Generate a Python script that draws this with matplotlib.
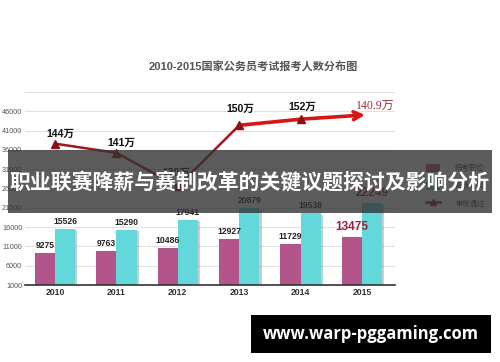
#!/usr/bin/env python3
"""2010-2015 national civil service exam chart, with the banner overlay."""

import matplotlib
matplotlib.use('Agg')
import matplotlib.pyplot as plt
import matplotlib.patheffects as pe
from matplotlib.patches import Patch, Rectangle
from matplotlib.lines import Line2D

# data
years = ['2010', '2011', '2012', '2013', '2014', '2015']
positions = [9275, 9763, 10486, 12927, 11729, 13475]      # 招考职位
recruits = [15526, 15290, 17941, 20879, 19538, 22249]     # 招录人数
passed = [144, 141, 130, 150, 152]                         # 审核通过 (万), 2010-2014
passed_labels = ['144万', '141万', '130万', '150万', '152万']
last_label = '140.9万'
y_ticks = list(range(1000, 51001, 5000))

title = '2010-2015国家公务员考试报考人数分布图'
banner = '职业联赛降薪与赛制改革的关键议题探讨及影响分析'
site = 'www.warp-pggaming.com'

MAGENTA = '#b3558a'
CYAN = '#62d8db'
DARK_RED = '#a3171c'
RED = '#d91414'

plt.rcParams['font.family'] = ['Liberation Sans', 'Noto Sans CJK SC']

fig = plt.figure(figsize=(5.0, 3.62), dpi=100)
fig.patch.set_facecolor('white')

ax = fig.add_axes([0.05, 0.2127, 0.74, 0.5332])
x = list(range(len(years)))
w = 0.33
shadow = [pe.SimplePatchShadow(offset=(1.5, -1), alpha=0.25), pe.Normal()]

b1 = ax.bar([i - w / 2 for i in x], positions, width=w, color=MAGENTA,
            bottom=0, zorder=3)
b2 = ax.bar([i + w / 2 for i in x], recruits, width=w, color=CYAN, zorder=3)
for b in list(b1) + list(b2):
    b.set_path_effects(shadow)

# value labels above bars, the 2015 ones in red and larger
for i, v in enumerate(positions):
    last = i == len(years) - 1
    ax.annotate(str(v), (i - w / 2, v), xytext=(0, 3 if not last else 4),
                textcoords='offset pixels', ha='center', va='bottom',
                fontsize=8.6 if last else 6.2, fontweight='bold',
                color='#a51e3c' if last else '#222222', zorder=4)
for i, v in enumerate(recruits):
    last = i == len(years) - 1
    ax.annotate(str(v), (i + w / 2, v), xytext=(0, 3 if not last else 4),
                textcoords='offset pixels', ha='center', va='bottom',
                fontsize=8.6 if last else 6.2, fontweight='bold',
                color='#a51e3c' if last else '#222222', zorder=4)

ax.set_xlim(-0.4886, 5.537)
ax.set_ylim(1000, 51000)
ax.set_yticks(y_ticks)
ax.set_yticklabels([str(t) if t < 51000 else '' for t in y_ticks])
ax.set_xticks(x)
ax.set_xticklabels(years, fontweight='bold')
ax.tick_params(axis='y', length=0, pad=2, labelsize=5.2, labelcolor='#555555')
ax.tick_params(axis='x', length=0, pad=2, labelsize=6.2, labelcolor='#333333')
ax.grid(axis='y', color='#e2e2e2', linewidth=0.8, zorder=0)
for s in ['left', 'right', 'top']:
    ax.spines[s].set_visible(False)
ax.spines['bottom'].set_color('#333333')
ax.spines['bottom'].set_linewidth(1.2)
ax.spines['bottom'].set_zorder(5)
ax.set_facecolor('none')

# line for 审核通过 on its own scale
ax2 = ax.twinx()
ax2.set_ylim(97.76, 160.9)
ax2.axis('off')
ax2.plot(x[:4], passed[:4], color=DARK_RED, linewidth=1.8, zorder=5)
ax2.plot(x[3:5], passed[3:5], color=RED, linewidth=2.6, zorder=5)
ax2.plot(x[:5], passed, linestyle='none', marker='^', markersize=5.5,
         color='#8c1014', zorder=6)
tip_x = len(years) - 1 + 0.05
tip_y = passed[-1] + 1.4
ax2.annotate('', xy=(tip_x, tip_y), xytext=(x[4], passed[-1]),
             arrowprops=dict(arrowstyle='->', color=RED, lw=2.6,
                             mutation_scale=14, shrinkA=0, shrinkB=0),
             zorder=5)
offsets = [(5, 10), (5, 10), (-1, 14), (1, 16), (2, 12)]
for i, (v, lab) in enumerate(zip(passed, passed_labels)):
    ax2.annotate(lab, (i, v), xytext=offsets[i], textcoords='offset pixels',
                 ha='center', va='center', fontsize=7.6, fontweight='bold',
                 color='#111111', zorder=7)
ax2.annotate(last_label, (tip_x, tip_y), xytext=(10, 9),
             textcoords='offset pixels', ha='center', va='center',
             fontsize=8.6, color='#a0303a',
             family=['Liberation Serif', 'Noto Sans CJK SC'], zorder=7)

fig.text(0.507, 1 - 67 / 362, title, ha='center', va='center',
         fontsize=8, fontweight='bold', color='#555555')

handles = [Patch(facecolor=MAGENTA), Patch(facecolor=CYAN),
           Line2D([], [], color=DARK_RED, linewidth=1.8, marker='^',
                  markersize=5, markerfacecolor='#8c1014')]
fig.legend(handles, ['招考职位', '招录人数', '审核通过'], loc='upper left',
           bbox_to_anchor=(422 / 500, 1 - 160 / 362), frameon=False,
           fontsize=5.3, borderpad=0, labelspacing=1.2, handlelength=2.0,
           handleheight=1.4, handletextpad=2.0, labelcolor='#444444')

# semi-transparent banner across the middle
fig.patches.append(Rectangle((8 / 500, 1 - 213 / 362), 484 / 500, 63 / 362,
                             transform=fig.transFigure, facecolor='#333333',
                             alpha=0.8, edgecolor='none', zorder=20))
fig.text(0.5, 1 - 182 / 362, banner, ha='center', va='center',
         fontsize=15, fontweight='bold', color='white',
         family=['Noto Sans CJK SC'], zorder=21)

# site box bottom right
fig.patches.append(Rectangle((251 / 500, 1 - 353 / 362), 240 / 500, 38 / 362,
                             transform=fig.transFigure, facecolor='black',
                             edgecolor='none', zorder=20))
fig.text(371 / 500, 1 - 334 / 362, site, ha='center', va='center',
         fontsize=12, fontweight='bold', color='white',
         family=['Open Sans'], zorder=21)

fig.savefig('out.png', dpi=100, facecolor='white')
